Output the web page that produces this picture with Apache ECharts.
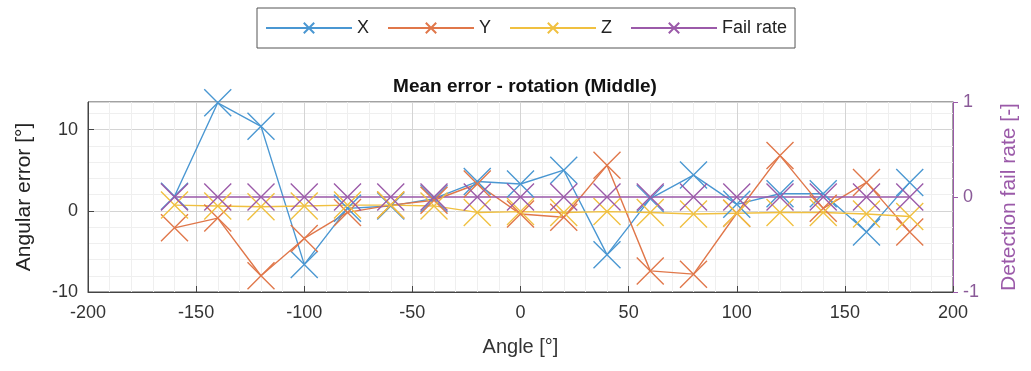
<!DOCTYPE html>
<html>
<head>
<meta charset="utf-8">
<script src="https://cdn.jsdelivr.net/npm/echarts@6/dist/echarts.min.js"></script>
<style>
  html, body { margin: 0; padding: 0; background: #fff; }
  #chart { width: 1031px; height: 371px; }
</style>
</head>
<body>
<div id="chart"></div>
<script>
const angles = [-160, -140, -120, -100, -80, -60, -40, -20, 0, 20, 40, 60, 80, 100, 120, 140, 160, 180];
const errX = [1.8, 13.3, 10.4, -6.6, 0.3, 0.6, 1.5, 3.6, 3.3, 5.0, -5.4, 1.5, 4.4, 0.8, 2.1, 2.1, -2.6, 3.5];
const errY = [-2.1, -0.9, -8.0, -3.4, -0.2, 0.7, 1.3, 3.3, -0.4, -0.8, 5.6, -7.4, -7.8, -0.3, 6.8, 0.3, 3.5, -2.6];
const errZ = [0.7, 0.6, 0.5, 0.6, 0.7, 0.7, 0.6, -0.2, -0.1, -0.2, -0.1, -0.2, -0.4, -0.3, -0.2, -0.2, -0.4, -0.7];
const failRate = [0, 0, 0, 0, 0, 0, 0, 0, 0, 0, 0, 0, 0, 0, 0, 0, 0, 0];

const colors = ['#4a97d2', '#e0774a', '#f0c040', '#9b5aa9'];
const cross = 'path://M0,0L10,10M10,0L0,10';

function pairs(vals) {
  return angles.map((a, i) => [a, vals[i]]);
}

function makeSeries(name, vals, color, axisIdx) {
  return {
    name: name,
    type: 'line',
    yAxisIndex: axisIdx,
    data: pairs(vals),
    symbol: cross,
    symbolSize: 27,
    lineStyle: { color: color, width: 1.4 },
    itemStyle: { color: 'rgba(0,0,0,0)', borderColor: color, borderWidth: 1.4 },
    emphasis: { disabled: true }
  };
}

const chart = echarts.init(document.getElementById('chart'));
const font = 'Liberation Sans, Arial, sans-serif';

const option = {
  animation: false,
  textStyle: { fontFamily: font },
  title: {
    text: 'Mean error - rotation (Middle)',
    left: 520,
    textAlign: 'center',
    top: 72,
    textStyle: { fontSize: 19, fontWeight: 'bold', color: '#111', fontFamily: font }
  },
  legend: {
    left: 257,
    top: 8,
    padding: [11, 8, 11, 8],
    borderColor: '#555',
    borderWidth: 1,
    itemWidth: 86,
    itemHeight: 13,
    itemGap: 18,
    textStyle: { fontSize: 18, color: '#222', fontFamily: font },
    data: ['X', 'Y', 'Z', 'Fail rate']
  },
  grid: {
    left: 88,
    right: 78,
    top: 102,
    bottom: 79,
    show: true,
    borderColor: '#444',
    borderWidth: 1
  },
  xAxis: {
    type: 'value',
    min: -200,
    max: 200,
    interval: 50,
    name: 'Angle [°]',
    nameLocation: 'middle',
    nameGap: 45,
    nameTextStyle: { fontSize: 20, color: '#333' },
    axisLine: { show: true, onZero: false, lineStyle: { color: '#444' } },
    axisTick: { show: true, inside: true, length: 6, lineStyle: { color: '#444' } },
    axisLabel: { fontSize: 18, color: '#333', margin: 12 },
    splitLine: { show: true, lineStyle: { color: '#d4d4d4', width: 1 } },
    minorTick: { show: false, splitNumber: 5 },
    minorSplitLine: { show: true, lineStyle: { color: '#efefef', width: 1 } }
  },
  yAxis: [
    {
      type: 'value',
      min: -10,
      max: 13.4,
      interval: 10,
      name: 'Angular error [°]',
      nameLocation: 'middle',
      nameGap: 53,
      nameTextStyle: { fontSize: 21, color: '#222' },
      axisLine: { show: true, onZero: false, lineStyle: { color: '#444' } },
      axisTick: { show: true, inside: true, length: 6, lineStyle: { color: '#444' } },
      axisLabel: { fontSize: 18, color: '#333', margin: 10, showMaxLabel: false },
      splitLine: { show: true, lineStyle: { color: '#d4d4d4', width: 1 } },
      minorTick: { show: false, splitNumber: 5 },
      minorSplitLine: { show: true, lineStyle: { color: '#efefef', width: 1 } }
    },
    {
      type: 'value',
      min: -1,
      max: 1,
      interval: 1,
      name: 'Detection fail rate [-]',
      nameLocation: 'middle',
      nameGap: 46,
      nameTextStyle: { fontSize: 21, color: '#9b5aa9' },
      axisLine: { show: true, onZero: false, lineStyle: { color: '#9b5aa9' } },
      axisTick: { show: true, inside: false, length: 5, lineStyle: { color: '#9b5aa9' } },
      axisLabel: { fontSize: 18, color: '#8a5a98', margin: 10 },
      splitLine: { show: false }
    }
  ],
  series: [
    makeSeries('X', errX, colors[0], 0),
    makeSeries('Y', errY, colors[1], 0),
    makeSeries('Z', errZ, colors[2], 0),
    makeSeries('Fail rate', failRate, colors[3], 1)
  ]
};

chart.setOption(option);
</script>
</body>
</html>
